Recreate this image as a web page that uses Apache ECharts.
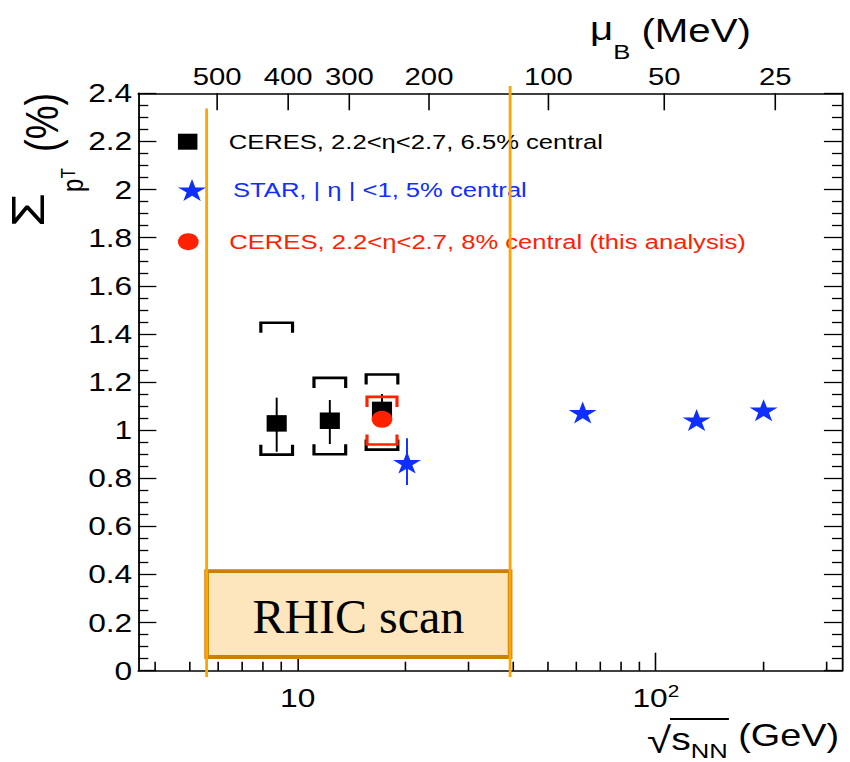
<!DOCTYPE html>
<html>
<head>
<meta charset="utf-8">
<title>Sigma pT fluctuations vs collision energy</title>
<script src="https://cdn.jsdelivr.net/npm/echarts@6/dist/echarts.min.js"></script>
<style>
  html, body { margin: 0; padding: 0; background: #fff; overflow: hidden; }
  #frame { width: 850px; height: 762px; overflow: hidden; }
  /* the figure is drawn on a 697px canvas and widened to 850px */
  #chart { width: 697px; height: 762px; transform: scaleX(1.219512); transform-origin: 0 0; }
</style>
</head>
<body>
<div id="frame"><div id="chart"></div></div>
<script>
// ---------- axes ----------
const X_MIN = 3.59, X_MAX = 331;
const Y_MIN = 0, Y_MAX = 2.4, Y_STEP = 0.2;
const yTickLabels = ['0', '0.2', '0.4', '0.6', '0.8', '1', '1.2', '1.4', '1.6', '1.8', '2', '2.2', '2.4'];
const xMinorTicks = [4, 5, 6, 7, 8, 9, 20, 30, 40, 50, 60, 70, 80, 90, 200, 300];
// baryon chemical potential (top scale) and the sqrt(s_NN) where each value sits
const muBLabels = [500, 400, 300, 200, 100, 50, 25];
const muBSqrtS = [5.96, 9.41, 13.94, 23.27, 50.15, 105.6, 215.6];

// ---------- data ----------
// CERES, 2.2<eta<2.7, 6.5% central
const ceresSqrtS = [8.74, 12.3, 17.2];
const ceresSigma = [1.028, 1.039, 1.084];
const ceresStatLo = [0.910, 0.942, 1.018];
const ceresStatHi = [1.135, 1.125, 1.150];
const ceresSysLo = [0.898, 0.900, 0.919];
const ceresSysHi = [1.446, 1.217, 1.231];
// CERES, 8% central (this analysis)
const thisSqrtS = [17.2];
const thisSigma = [1.045];
const thisSysLo = [0.940];
const thisSysHi = [1.138];
// STAR, |eta|<1, 5% central
const starSqrtS = [20.2, 62.5, 130, 200];
const starSigma = [0.865, 1.073, 1.042, 1.083];
const starErrLo = [0.772, null, null, null];
const starErrHi = [0.966, null, null, null];
// RHIC energy scan band
const rhicSqrtS = [5.57, 39.2];
const rhicLineTop = [2.337, 2.43];
const rhicLineBottom = -0.026;
const rhicBoxY = [0.057, 0.414];

const LEG_CERES = 'CERES, 2.2<η<2.7, 6.5% central';
const LEG_STAR = 'STAR, | η | <1, 5% central';
const LEG_THIS = 'CERES, 2.2<η<2.7, 8% central (this analysis)';

// ---------- style ----------
const K = 850 / 697;              // horizontal widening of the drawing
const FONT = "'Liberation Sans', Arial, Helvetica, sans-serif";
const SERIF = "'Liberation Serif', 'Times New Roman', serif";
const BLACK = '#000000', BLUE = '#0f2fff', RED = '#ff2200';
const ORANGE = '#ffa500', BOX_EDGE = '#cc8000', BOX_FILL = '#fde6bd';
const STAR_PATH = 'path://M0,-100L22.45,-30.9L95.11,-30.9L36.33,11.8L58.78,80.9L0,38.2L-58.78,80.9L-36.33,11.8L-95.11,-30.9L-22.45,-30.9Z';
const SQUARE_PATH = 'path://M0,0H10V10H0Z';

const mctx = document.createElement('canvas').getContext('2d');
function textW(t, size, fam) { mctx.font = size + 'px ' + (fam || FONT); return mctx.measureText(t).width; }

// ---------- helper series ----------
function errorBars(xs, lo, hi, color, width, z) {
  const data = [];
  xs.forEach((x, i) => { if (lo[i] != null && hi[i] != null) data.push([x, lo[i], hi[i]]); });
  return {
    type: 'custom', coordinateSystem: 'cartesian2d', silent: true, clip: false, z,
    data, encode: { x: 0, y: [1, 2] },
    renderItem(params, api) {
      const a = api.coord([api.value(0), api.value(1)]);
      const b = api.coord([api.value(0), api.value(2)]);
      return { type: 'line', shape: { x1: a[0], y1: a[1], x2: b[0], y2: b[1] },
        style: { stroke: color, lineWidth: width } };
    }
  };
}

function brackets(xs, lo, hi, color, halfW, arm, width, z) {
  return {
    type: 'custom', coordinateSystem: 'cartesian2d', silent: true, clip: false, z,
    data: xs.map((x, i) => [x, lo[i], hi[i]]), encode: { x: 0, y: [1, 2] },
    renderItem(params, api) {
      const t = api.coord([api.value(0), api.value(2)]);
      const b = api.coord([api.value(0), api.value(1)]);
      const st = { stroke: color, lineWidth: width, fill: null, lineJoin: 'miter' };
      return { type: 'group', children: [
        { type: 'polyline', shape: { points: [[t[0] - halfW, t[1] + arm], [t[0] - halfW, t[1]], [t[0] + halfW, t[1]], [t[0] + halfW, t[1] + arm]] }, style: st },
        { type: 'polyline', shape: { points: [[b[0] - halfW, b[1] - arm], [b[0] - halfW, b[1]], [b[0] + halfW, b[1]], [b[0] + halfW, b[1] - arm]] }, style: st }
      ] };
    }
  };
}

// ---------- titles ----------
function piece(text, size, x, base, fam) {
  return { type: 'text', x, y: base - 0.35 * size,
    style: { text, font: size + 'px ' + (fam || FONT), fill: BLACK, align: 'left', verticalAlign: 'middle' } };
}
// x title: sqrt(s_NN) (GeV), right-aligned to the frame
const xt = [['√', 36, 753], ['s', 32, 750], ['NN', 21, 758], [' (GeV)', 31, 746]];
let xtW = 0; xt.forEach(p => { xtW += textW(p[0], p[1]); });
let xx = 688 - xtW;
const xTitle = [];
let ovStart = 0, ovEnd = 0;
xt.forEach((p, i) => {
  xTitle.push(piece(p[0], p[1], xx, p[2]));
  if (i === 1) ovStart = xx - 1;
  xx += textW(p[0], p[1]);
  if (i === 2) ovEnd = xx + 1;
});
xTitle.push({ type: 'line', shape: { x1: ovStart, y1: 719, x2: ovEnd, y2: 719 }, style: { stroke: BLACK, lineWidth: 2 } });

// top title: mu_B (MeV)
const tt = [['μ', 33, 40], ['B', 21, 59], [' (MeV)', 33, 42]];
let tx = 483.8;
const topTitle = [];
tt.forEach(p => { topTitle.push(piece(p[0], p[1], tx, p[2])); tx += textW(p[0], p[1]); });

// y title: Sigma_pT (%), reading upwards
function vpiece(text, size, baseX, startY, stretch) {
  return { type: 'text', x: baseX - 0.35 * size, y: startY, rotation: Math.PI / 2, scaleX: stretch || 1,
    style: { text, font: size + 'px ' + FONT, fill: BLACK, align: 'left', verticalAlign: 'middle' } };
}
const yTitle = [];
let ys = 227;
yTitle.push(vpiece('Σ', 38, 36, ys, 1.45)); ys -= textW('Σ', 38) * 1.45 + 1;
yTitle.push(vpiece('p', 24, 68, ys)); ys -= textW('p', 24);
yTitle.push(vpiece('T', 17, 62, ys));
yTitle.push(vpiece('(%)', 38, 48, 152));

// ---------- chart ----------
const chart = echarts.init(document.getElementById('chart'), null, { renderer: 'svg', width: 697, height: 762 });

const axisLine = { show: true, onZero: false, lineStyle: { color: BLACK, width: 1.5 } };

const option = {
  animation: false,
  backgroundColor: '#ffffff',
  grid: { left: 113.4, right: 6.6, top: 93.3, bottom: 91.3, containLabel: false, outerBoundsMode: 'none' },
  xAxis: [
    {
      type: 'log', logBase: 10, min: X_MIN, max: X_MAX, position: 'bottom',
      axisLine, splitLine: { show: false }, minorTick: { show: false }, minorSplitLine: { show: false },
      axisTick: { show: true, inside: true, length: 18, lineStyle: { color: BLACK, width: 1.3 } },
      axisLabel: {
        show: true, margin: 12, fontSize: 26, fontFamily: FONT, color: BLACK, lineHeight: 30,
        showMinLabel: false, showMaxLabel: false,
        formatter(v) {
          const e = Math.round(Math.log10(v));
          if (Math.abs(v - Math.pow(10, e)) / v > 1e-6) return '';
          return e === 1 ? '10' : '10{sup|' + e + '}';
        },
        rich: { sup: { fontSize: 17, fontFamily: FONT, color: BLACK, lineHeight: 17, verticalAlign: 'top' } }
      }
    },
    {
      type: 'log', logBase: 10, min: X_MIN, max: X_MAX, position: 'top',
      axisLine, axisTick: { show: false }, axisLabel: { show: false },
      splitLine: { show: false }, minorTick: { show: false }
    }
  ],
  yAxis: [0, 1].map(k => ({
    type: 'value', min: Y_MIN, max: Y_MAX, interval: Y_STEP, position: k === 0 ? 'left' : 'right',
    axisLine,
    axisTick: { show: true, inside: true, length: 14.8, lineStyle: { color: BLACK, width: 1.3 } },
    minorTick: { show: true, splitNumber: 4, length: 8.2, lineStyle: { color: BLACK, width: 1.3 } },
    splitLine: { show: false }, minorSplitLine: { show: false },
    axisLabel: k === 0 ? {
      show: true, margin: 5, fontSize: 26, fontFamily: FONT, color: BLACK, padding: [6, 0, 0, 0],
      formatter: (v, i) => yTickLabels[i]
    } : { show: false }
  })),
  legend: [
    { name: LEG_CERES, color: BLACK, icon: SQUARE_PATH, h: 16, cy: 141.7 },
    { name: LEG_STAR, color: BLUE, icon: STAR_PATH, h: 22, cy: 190 },
    { name: LEG_THIS, color: RED, icon: 'circle', h: 17, cy: 241.7 }
  ].map(l => ({
    show: true, orient: 'horizontal', left: 145.9, top: l.cy - 12, padding: 0,
    itemWidth: 57.2, itemHeight: l.h, itemGap: 0, selectedMode: false, symbolKeepAspect: true,
    data: [{ name: l.name, icon: l.icon }],
    itemStyle: { borderWidth: 0, opacity: 1 },
    textStyle: { color: l.color, fontSize: 21, fontFamily: FONT, lineHeight: 24 }
  })),
  graphic: [...xTitle, ...topTitle, ...yTitle],
  series: [
    // RHIC scan band
    {
      type: 'custom', coordinateSystem: 'cartesian2d', silent: true, clip: false, z: 1,
      data: [[rhicSqrtS[0], rhicBoxY[0], rhicSqrtS[1], rhicBoxY[1]]],
      renderItem(params, api) {
        const a = api.coord([api.value(0), api.value(3)]);
        const b = api.coord([api.value(2), api.value(1)]);
        return { type: 'group', children: [
          { type: 'rect', shape: { x: a[0], y: a[1], width: b[0] - a[0], height: b[1] - a[1] },
            style: { fill: BOX_FILL, stroke: BOX_EDGE, lineWidth: 3.8 } },
          { type: 'text', x: (a[0] + b[0]) / 2, y: (a[1] + b[1]) / 2 + 2.7, scaleX: 1 / K,
            style: { text: 'RHIC scan', font: '48px ' + SERIF, fill: BLACK, align: 'center', verticalAlign: 'middle' } }
        ] };
      }
    },
    {
      type: 'custom', coordinateSystem: 'cartesian2d', silent: true, clip: false, z: 10,
      data: rhicSqrtS.map((x, i) => [x, rhicLineBottom, rhicLineTop[i]]),
      renderItem(params, api) {
        const a = api.coord([api.value(0), api.value(1)]);
        const b = api.coord([api.value(0), api.value(2)]);
        return { type: 'line', shape: { x1: a[0], y1: a[1], x2: b[0], y2: b[1] }, style: { stroke: ORANGE, lineWidth: 2.3 } };
      }
    },
    // bottom minor ticks (2..9 of each decade)
    {
      type: 'custom', coordinateSystem: 'cartesian2d', silent: true, clip: false, z: 3,
      data: xMinorTicks.map(v => [v, Y_MIN]),
      renderItem(params, api) {
        const p = api.coord([api.value(0), Y_MIN]);
        return { type: 'line', shape: { x1: p[0], y1: p[1], x2: p[0], y2: p[1] - 9 }, style: { stroke: BLACK, lineWidth: 1.3 } };
      }
    },
    // top mu_B scale
    {
      type: 'custom', coordinateSystem: 'cartesian2d', silent: true, clip: false, z: 3,
      data: muBSqrtS.map((x, i) => [x, Y_MAX, muBLabels[i]]),
      renderItem(params, api) {
        const p = api.coord([api.value(0), Y_MAX]);
        return { type: 'group', children: [
          { type: 'line', shape: { x1: p[0], y1: p[1], x2: p[0], y2: p[1] + 17 }, style: { stroke: BLACK, lineWidth: 1.3 } },
          { type: 'text', x: p[0], y: p[1] - 4.7,
            style: { text: String(muBLabels[params.dataIndex]), font: '24px ' + FONT, fill: BLACK, align: 'center', verticalAlign: 'bottom' } }
        ] };
      }
    },
    // CERES 6.5% central
    brackets(ceresSqrtS, ceresSysLo, ceresSysHi, BLACK, 13, 10, 2.6, 4),
    errorBars(ceresSqrtS, ceresStatLo, ceresStatHi, BLACK, 1.6, 4),
    {
      name: LEG_CERES, type: 'scatter', z: 5,
      data: ceresSqrtS.map((x, i) => [x, ceresSigma[i]]),
      symbol: 'rect', symbolSize: 16.5, itemStyle: { color: BLACK, opacity: 1 }
    },
    // this analysis
    brackets(thisSqrtS, thisSysLo, thisSysHi, RED, 12.3, 10, 2.6, 6),
    {
      name: LEG_THIS, type: 'scatter', z: 7,
      data: thisSqrtS.map((x, i) => [x, thisSigma[i]]),
      symbol: 'circle', symbolSize: 17, itemStyle: { color: RED, opacity: 1 }
    },
    // STAR
    errorBars(starSqrtS, starErrLo, starErrHi, BLUE, 1.6, 5),
    {
      name: LEG_STAR, type: 'scatter', z: 6,
      data: starSqrtS.map((x, i) => [x, starSigma[i]]),
      symbol: STAR_PATH, symbolSize: [23, 22], itemStyle: { color: BLUE, opacity: 1 }
    }
  ]
};
chart.setOption(option);
</script>
</body>
</html>
